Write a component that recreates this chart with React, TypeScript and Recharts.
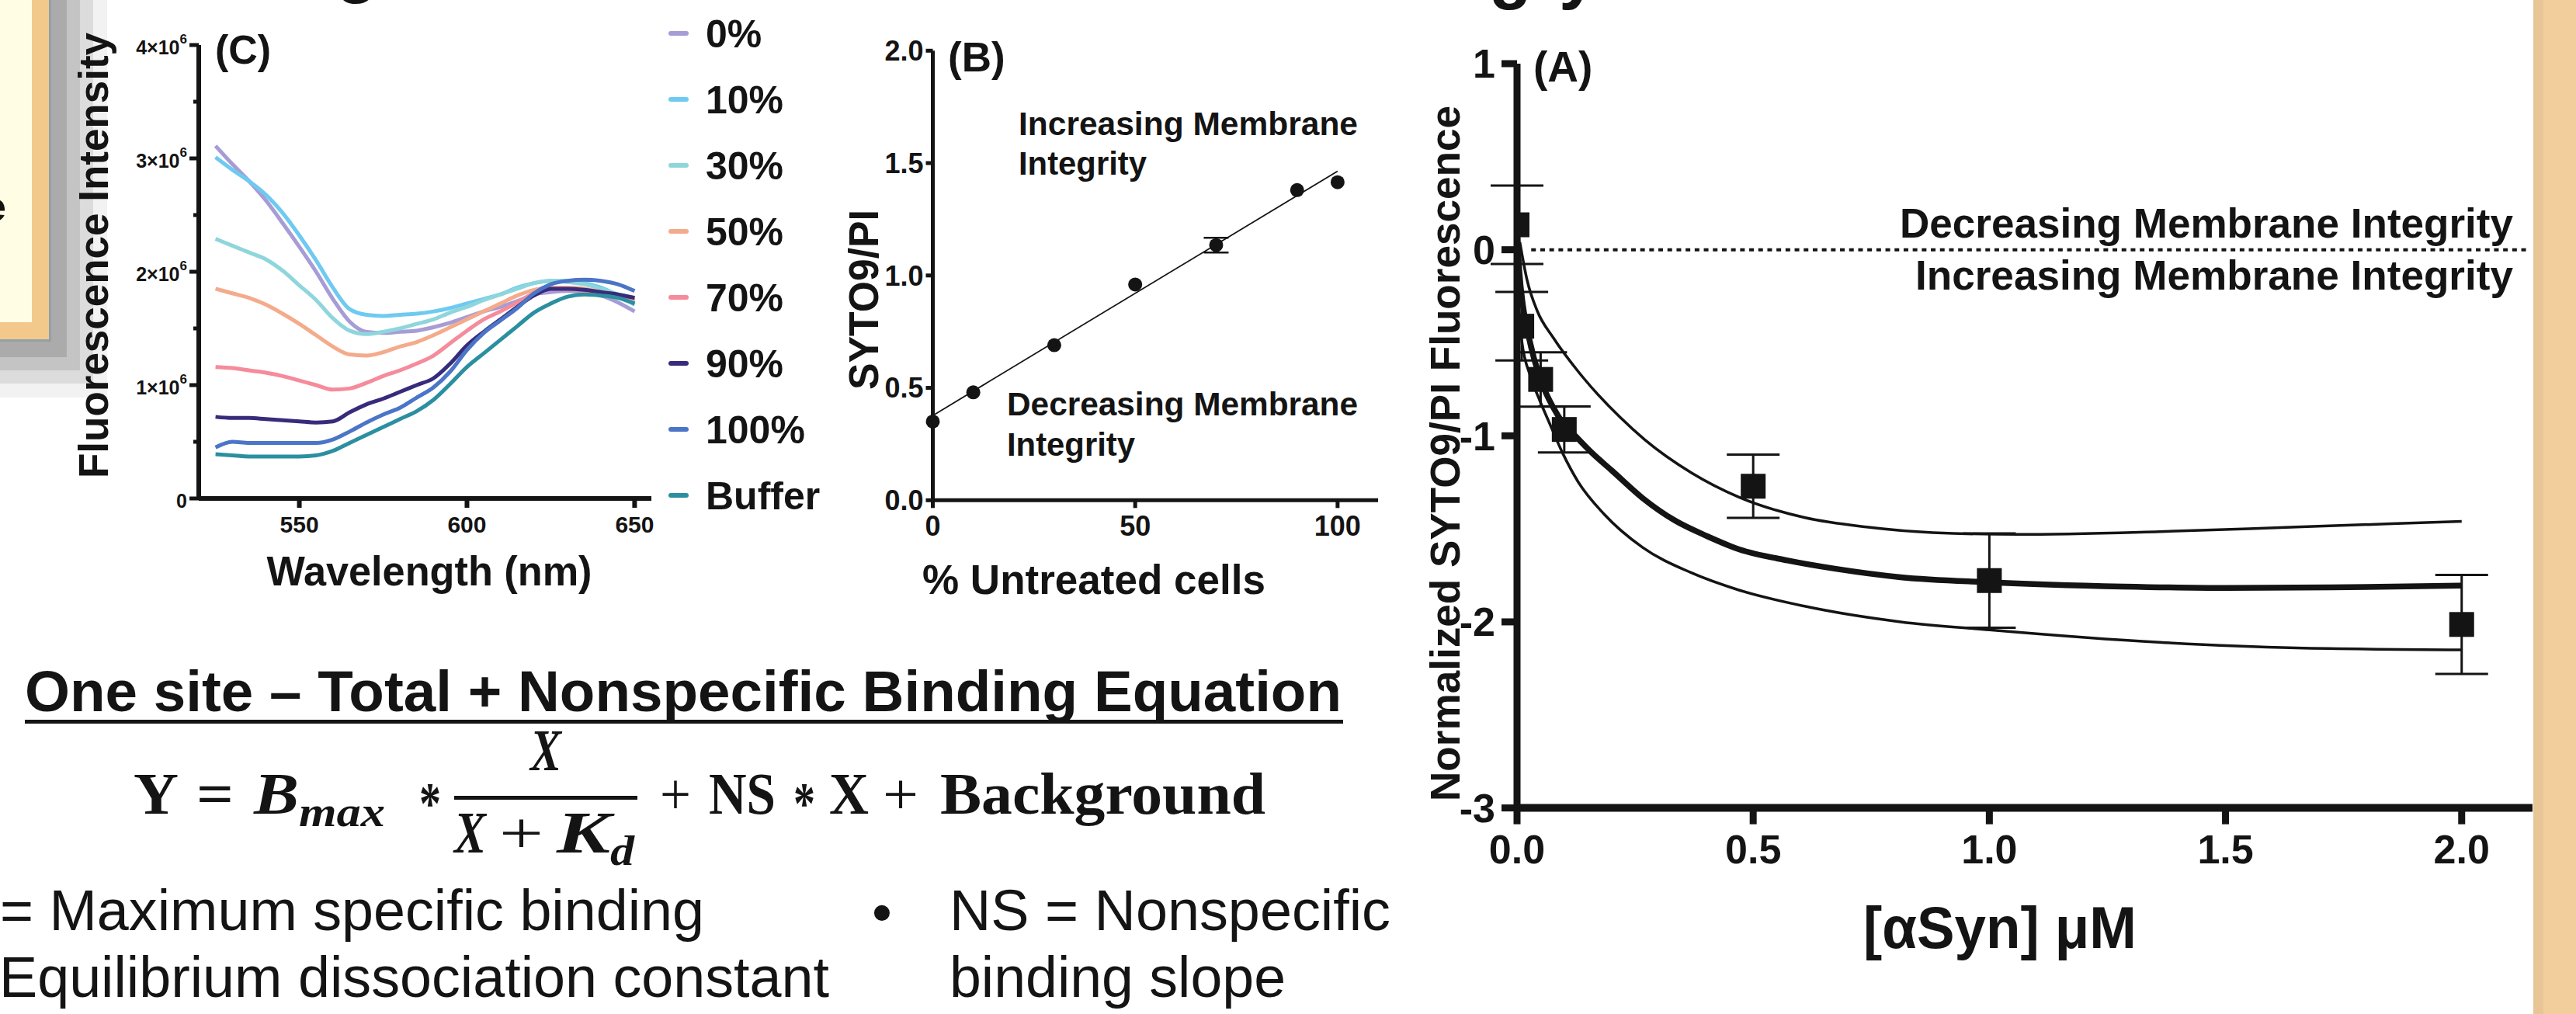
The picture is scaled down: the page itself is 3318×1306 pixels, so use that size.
import React from "react";
import {
  LineChart,
  Line,
  XAxis,
  YAxis,
  ComposedChart,
  Scatter,
  ErrorBar,
  ReferenceLine,
} from "recharts";

const FONT = "'Liberation Sans', Arial, Helvetica, sans-serif";
const SERIF = "'Liberation Serif', 'DejaVu Serif', serif";
const INK = "#141414";

// (C) emission spectra, values in units of 10^6
const wavelengths = [525, 530, 535, 540, 545, 550, 555, 560, 565, 570, 575, 580, 585, 590, 595, 600, 605, 610, 615, 620, 625, 630, 635, 640, 645, 650];
const spec0 = [3.11, 2.95, 2.8, 2.63, 2.43, 2.22, 2.0, 1.76, 1.56, 1.47, 1.46, 1.47, 1.48, 1.51, 1.55, 1.6, 1.65, 1.69, 1.74, 1.8, 1.82, 1.83, 1.82, 1.79, 1.73, 1.65];
const spec10 = [3.01, 2.9, 2.8, 2.68, 2.52, 2.32, 2.1, 1.86, 1.67, 1.62, 1.61, 1.62, 1.63, 1.65, 1.68, 1.72, 1.76, 1.8, 1.86, 1.9, 1.92, 1.92, 1.9, 1.86, 1.79, 1.71];
const spec30 = [2.29, 2.23, 2.17, 2.11, 2.01, 1.88, 1.75, 1.59, 1.48, 1.45, 1.47, 1.5, 1.54, 1.58, 1.64, 1.69, 1.75, 1.8, 1.85, 1.9, 1.92, 1.91, 1.89, 1.85, 1.8, 1.74];
const spec50 = [1.85, 1.81, 1.77, 1.71, 1.63, 1.54, 1.44, 1.34, 1.27, 1.26, 1.29, 1.34, 1.38, 1.44, 1.51, 1.58, 1.65, 1.72, 1.79, 1.84, 1.86, 1.86, 1.85, 1.82, 1.79, 1.75];
const spec70 = [1.16, 1.15, 1.13, 1.11, 1.08, 1.04, 1.0, 0.96, 0.97, 1.02, 1.08, 1.13, 1.19, 1.26, 1.37, 1.48, 1.58, 1.65, 1.73, 1.81, 1.85, 1.85, 1.83, 1.81, 1.79, 1.77];
const spec90 = [0.72, 0.71, 0.71, 0.7, 0.69, 0.68, 0.67, 0.68, 0.76, 0.83, 0.88, 0.94, 1.0, 1.06, 1.19, 1.35, 1.47, 1.58, 1.69, 1.79, 1.85, 1.85, 1.84, 1.82, 1.8, 1.77];
const spec100 = [0.45, 0.5, 0.49, 0.49, 0.49, 0.49, 0.49, 0.52, 0.59, 0.67, 0.74, 0.8, 0.89, 0.98, 1.12, 1.31, 1.46, 1.57, 1.68, 1.81, 1.89, 1.92, 1.93, 1.92, 1.89, 1.83];
const specBuffer = [0.39, 0.38, 0.37, 0.37, 0.37, 0.37, 0.38, 0.42, 0.49, 0.56, 0.63, 0.7, 0.77, 0.87, 1.01, 1.16, 1.28, 1.4, 1.52, 1.64, 1.72, 1.78, 1.8, 1.79, 1.77, 1.72];
const cYTicks = [0, 0.5, 1, 1.5, 2, 2.5, 3, 3.5, 4];

const spectra = [
  { key: "p0", name: "0%", color: "#a69cd6", values: spec0 },
  { key: "p10", name: "10%", color: "#6ecaf0", values: spec10 },
  { key: "p30", name: "30%", color: "#8ed6dc", values: spec30 },
  { key: "p50", name: "50%", color: "#f4ab8c", values: spec50 },
  { key: "p70", name: "70%", color: "#f58b9b", values: spec70 },
  { key: "p90", name: "90%", color: "#372b7b", values: spec90 },
  { key: "p100", name: "100%", color: "#4b75c6", values: spec100 },
  { key: "buf", name: "Buffer", color: "#2b8fa0", values: specBuffer },
];

const spectraRows = wavelengths.map((nm, i) => {
  const row: Record<string, number> = { nm };
  spectra.forEach((s) => (row[s.key] = s.values[i]));
  return row;
});

// (B) calibration
const untreated = [0, 10, 30, 50, 70, 90, 100];
const sytoRatio = [0.35, 0.48, 0.69, 0.96, 1.135, 1.38, 1.415];
const sytoRatioErr = [0, 0, 0, 0, 0.033, 0, 0];
const calFitX = [0, 100];
const calFitY = [0.377, 1.464];

// (A) aSyn titration
const conc = [0, 0.01, 0.05, 0.1, 0.5, 1, 2];
const normFl = [0.134, -0.411, -0.697, -0.966, -1.271, -1.778, -2.014];
const normErr = [0.211, 0.184, 0.146, 0.124, 0.17, 0.253, 0.266];
const fitX = [0, 0.005, 0.0125, 0.025, 0.05, 0.075, 0.1, 0.125, 0.16, 0.2, 0.266, 0.334, 0.403, 0.47, 0.573, 0.675, 0.812, 1.0, 1.283, 1.503, 1.723, 2.0];
const fitY = [0.1, -0.12, -0.3, -0.47, -0.7, -0.84, -0.94, -1.005, -1.095, -1.185, -1.335, -1.455, -1.54, -1.61, -1.67, -1.715, -1.76, -1.787, -1.81, -1.818, -1.815, -1.805];
const upperX = [0.006, 0.021, 0.043, 0.076, 0.141, 0.218, 0.27, 0.37, 0.47, 0.61, 0.74, 0.88, 1.06, 1.36, 1.65, 2.0];
const upperY = [0.04, -0.16, -0.33, -0.47, -0.69, -0.9, -1.02, -1.2, -1.33, -1.44, -1.49, -1.52, -1.53, -1.515, -1.49, -1.46];
const lowerX = [0.003, 0.01, 0.03, 0.048, 0.065, 0.096, 0.13, 0.184, 0.266, 0.368, 0.471, 0.607, 0.812, 1.0, 1.36, 1.65, 2.0];
const lowerY = [-0.28, -0.49, -0.69, -0.81, -0.91, -1.09, -1.25, -1.42, -1.6, -1.735, -1.83, -1.915, -2.0, -2.043, -2.11, -2.14, -2.15];

const zip = (xs: number[], ys: number[]) => xs.map((x, i) => ({ x, y: ys[i] }));
const calPoints = untreated.map((x, i) => ({ x, y: sytoRatio[i], err: sytoRatioErr[i] }));
const calFit = zip(calFitX, calFitY);
const titration = conc.map((x, i) => ({ x, y: normFl[i], err: normErr[i] }));
const fitLine = zip(fitX, fitY);
const upperBand = zip(upperX, upperY);
const lowerBand = zip(lowerX, lowerY);

const CYTick = (props: any) => {
  const { x, y, payload } = props;
  const v = payload.value;
  const major = Number.isInteger(v);
  return (
    <g>
      <line x1={x} x2={x - (major ? 12 : 7)} y1={y} y2={y} stroke={INK} strokeWidth={5} />
      {major && (
        <text x={x - 15} y={y + 3} textAnchor="end" dominantBaseline="central" fill={INK} fontFamily={FONT} fontWeight={700} fontSize={25}>
          {v === 0 ? "0" : (
            <>
              {v}×10<tspan dy={-11} fontSize={17}>6</tspan>
            </>
          )}
        </text>
      )}
    </g>
  );
};

const T = (p: any) => (
  <text fill={INK} fontFamily={FONT} fontWeight={700} lengthAdjust="spacingAndGlyphs" {...p} />
);
const S = (p: any) => (
  <text fill={INK} fontFamily={SERIF} fontWeight={700} fontSize={76} lengthAdjust="spacingAndGlyphs" {...p} />
);

export default function App() {
  const tickFont = { fill: INK, fontFamily: FONT, fontWeight: 700 };
  return (
    <div style={{ position: "absolute", left: 0, top: 0, width: 3318, height: 1306, background: "#fff", overflow: "hidden" }}>
      <svg width={3318} height={1306} style={{ position: "absolute", left: 0, top: 0 }}>
        {/* poster box on the left with its shadow */}
        <rect x={0} y={0} width={138} height={512} fill="#f2f2f2" />
        <rect x={0} y={0} width={120} height={494} fill="#dcdcdc" />
        <rect x={0} y={0} width={103} height={477} fill="#c4c4c4" />
        <rect x={0} y={0} width={86} height={460} fill="#ababab" />
        <rect x={0} y={0} width={66} height={440} fill="#93a0a6" />
        <rect x={0} y={0} width={63} height={437} fill="#f2c98b" />
        <rect x={0} y={0} width={41} height={415} fill="#fffee5" />
        <T x={-21} y={284} fontSize={52}>e</T>
        {/* orange strip on the right */}
        <rect x={3263} y={0} width={55} height={1306} fill="#f1ce9b" />
        <rect x={3263} y={0} width={13} height={1306} fill="#e7c595" />
        {/* cut title glyphs */}
        <T x={432} y={-14} fontSize={90}>g</T>
        <T x={1918} y={-6} fontSize={90}>g</T>
        <T x={2008} y={-6} fontSize={90}>y</T>

        {/* panel C texts */}
        <T x={277} y={82} fontSize={52}>(C)</T>
        <T transform="translate(139,329) rotate(-90)" x={0} y={0} textAnchor="middle" fontSize={53} textLength={574}>
          Fluorescence Intensity
        </T>
        <T x={553} y={754} textAnchor="middle" fontSize={53} textLength={419}>Wavelength (nm)</T>
        {spectra.map((s, i) => (
          <g key={s.key}>
            <line x1={864} x2={884} y1={43 + i * 85} y2={43 + i * 85} stroke={s.color} strokeWidth={6} strokeLinecap="round" />
            <T x={909} y={43 + i * 85 + 18} fontSize={50}>{s.name}</T>
          </g>
        ))}

        {/* panel B texts */}
        <T x={1221} y={92} fontSize={53}>(B)</T>
        <T transform="translate(1131,386) rotate(-90)" x={0} y={0} textAnchor="middle" fontSize={54} textLength={232}>
          SYTO9/PI
        </T>
        <T x={1409} y={765} textAnchor="middle" fontSize={54} textLength={442}>% Untreated cells</T>
        <T x={1312} y={174} fontSize={42} textLength={437}>Increasing Membrane</T>
        <T x={1312} y={225} fontSize={42} textLength={165}>Integrity</T>
        <T x={1297} y={535} fontSize={42} textLength={452}>Decreasing Membrane</T>
        <T x={1297} y={587} fontSize={42} textLength={165}>Integrity</T>

        {/* panel A texts */}
        <T x={1975} y={105} fontSize={55}>(A)</T>
        <T transform="translate(1880,584) rotate(-90)" x={0} y={0} textAnchor="middle" fontSize={53} textLength={896}>
          Normalized SYTO9/PI Fluorescence
        </T>
        <T x={2576} y={1221} textAnchor="middle" fontSize={76} textLength={352}>[αSyn] μM</T>
        <T x={3237} y={306} textAnchor="end" fontSize={53} textLength={790}>Decreasing Membrane Integrity</T>
        <T x={3237} y={373} textAnchor="end" fontSize={53} textLength={770}>Increasing Membrane Integrity</T>

        {/* equation block */}
        <T x={32} y={916} fontSize={74} textLength={1696}>One site – Total + Nonspecific Binding Equation</T>
        <rect x={32} y={927} width={1698} height={5} fill={INK} />
        <S x={172} y={1048} textLength={58}>Y</S>
        <S x={253} y={1048} textLength={48}>=</S>
        <S x={327} y={1048} fontStyle="italic" textLength={58}>B</S>
        <S x={385} y={1064} fontSize={54} fontStyle="italic" textLength={111}>max</S>
        <S x={540} y={1060} textLength={28}>*</S>
        <S x={683} y={992} fontStyle="italic" textLength={40}>X</S>
        <rect x={585} y={1025} width={236} height={5} fill={INK} />
        <S x={585} y={1098} fontStyle="italic" textLength={41}>X</S>
        <S x={643} y={1098} fontWeight={400} textLength={57}>+</S>
        <S x={717} y={1098} fontStyle="italic" textLength={69}>K</S>
        <S x={786} y={1114} fontSize={54} fontStyle="italic" textLength={31}>d</S>
        <S x={850} y={1048} fontWeight={400} textLength={40}>+</S>
        <S x={913} y={1048} textLength={86}>NS</S>
        <S x={1022} y={1060} textLength={28}>*</S>
        <S x={1068} y={1048} textLength={51}>X</S>
        <S x={1137} y={1048} fontWeight={400} textLength={46}>+</S>
        <S x={1211} y={1048} textLength={419}>Background</S>

        <T x={0} y={1198} fontSize={74} fontWeight={400} textLength={907}>= Maximum specific binding</T>
        <T x={-1} y={1284} fontSize={74} fontWeight={400} textLength={1069}>Equilibrium dissociation constant</T>
        <T x={1123} y={1201} fontSize={74} fontWeight={400}>•</T>
        <T x={1223} y={1198} fontSize={74} fontWeight={400} textLength={568}>NS = Nonspecific</T>
        <T x={1223} y={1284} fontSize={74} fontWeight={400} textLength={433}>binding slope</T>
      </svg>

      {/* (C) spectra */}
      <div style={{ position: "absolute", left: 0, top: 0 }}>
        <LineChart width={860} height={700} data={spectraRows} margin={{ top: 58, right: 21, bottom: 0, left: 0 }}>
          <XAxis
            type="number"
            dataKey="nm"
            domain={[520, 655]}
            ticks={[550, 600, 650]}
            interval={0}
            allowDataOverflow
            height={58}
            tickSize={12}
            tickMargin={11}
            axisLine={{ stroke: INK, strokeWidth: 6 }}
            tickLine={{ stroke: INK, strokeWidth: 6 }}
            tick={{ ...tickFont, fontSize: 30 }}
          />
          <YAxis
            type="number"
            domain={[0, 4]}
            ticks={cYTicks}
            interval={0}
            width={256}
            tickSize={0}
            tickMargin={0}
            tickLine={false}
            axisLine={{ stroke: INK, strokeWidth: 6 }}
            tick={(p: any) => <CYTick {...p} />}
          />
          {spectra.map((s) => (
            <Line
              key={s.key}
              dataKey={s.key}
              name={s.name}
              type="monotone"
              stroke={s.color}
              strokeWidth={5}
              dot={false}
              isAnimationActive={false}
            />
          ))}
        </LineChart>
      </div>

      {/* (B) calibration */}
      <div style={{ position: "absolute", left: 1000, top: 0 }}>
        <ComposedChart width={800} height={700} margin={{ top: 65.3, right: 25, bottom: 0, left: 0 }}>
          <XAxis
            type="number"
            dataKey="x"
            domain={[0, 110]}
            ticks={[0, 50, 100]}
            interval={0}
            height={55.7}
            tickSize={10}
            tickMargin={10}
            axisLine={{ stroke: INK, strokeWidth: 5 }}
            tickLine={{ stroke: INK, strokeWidth: 5 }}
            tick={{ ...tickFont, fontSize: 36 }}
          />
          <YAxis
            type="number"
            domain={[0, 2]}
            ticks={[0, 0.5, 1, 1.5, 2]}
            interval={0}
            width={201.5}
            tickSize={9}
            tickMargin={3}
            tickFormatter={(v: number) => v.toFixed(1)}
            axisLine={{ stroke: INK, strokeWidth: 5 }}
            tickLine={{ stroke: INK, strokeWidth: 5 }}
            tick={{ ...tickFont, fontSize: 36 }}
          />
          <Line data={calFit} dataKey="y" type="linear" stroke={INK} strokeWidth={1.8} dot={false} isAnimationActive={false} />
          <Scatter
            data={calPoints}
            dataKey="y"
            isAnimationActive={false}
            shape={(p: any) => <circle cx={p.cx} cy={p.cy} r={9} fill={INK} />}
          >
            <ErrorBar dataKey="err" direction="y" width={16} stroke={INK} strokeWidth={2.5} />
          </Scatter>
        </ComposedChart>
      </div>

      {/* (A) titration */}
      <div style={{ position: "absolute", left: 1700, top: 0 }}>
        <ComposedChart width={1600} height={1150} margin={{ top: 82, right: 38, bottom: 0, left: 0 }}>
          <XAxis
            type="number"
            dataKey="x"
            domain={[0, 2.15]}
            ticks={[0, 0.5, 1, 1.5, 2]}
            interval={0}
            allowDataOverflow
            height={109.4}
            tickSize={21}
            tickMargin={13}
            tickFormatter={(v: number) => v.toFixed(1)}
            axisLine={{ stroke: INK, strokeWidth: 10 }}
            tickLine={{ stroke: INK, strokeWidth: 9 }}
            tick={{ ...tickFont, fontSize: 52 }}
          />
          <YAxis
            type="number"
            domain={[-3, 1]}
            ticks={[-3, -2, -1, 0, 1]}
            interval={0}
            width={254}
            tickSize={20}
            tickMargin={8}
            axisLine={{ stroke: INK, strokeWidth: 9 }}
            tickLine={{ stroke: INK, strokeWidth: 9 }}
            tick={{ ...tickFont, fontSize: 52 }}
          />
          <ReferenceLine
            segment={[{ x: 0.03, y: 0 }, { x: 2.14, y: 0 }]}
            stroke={INK}
            strokeWidth={4}
            strokeDasharray="6 5.7"
          />
          <Line data={upperBand} dataKey="y" type="monotone" stroke={INK} strokeWidth={3.5} dot={false} isAnimationActive={false} />
          <Line data={lowerBand} dataKey="y" type="monotone" stroke={INK} strokeWidth={3.5} dot={false} isAnimationActive={false} />
          <Line data={fitLine} dataKey="y" type="monotone" stroke={INK} strokeWidth={7.5} dot={false} isAnimationActive={false} />
          <Scatter
            data={titration}
            dataKey="y"
            isAnimationActive={false}
            shape={(p: any) => <rect x={p.cx - 16} y={p.cy - 16} width={32} height={32} fill={INK} />}
          >
            <ErrorBar dataKey="err" direction="y" width={34} stroke={INK} strokeWidth={3} />
          </Scatter>
        </ComposedChart>
      </div>
    </div>
  );
}
